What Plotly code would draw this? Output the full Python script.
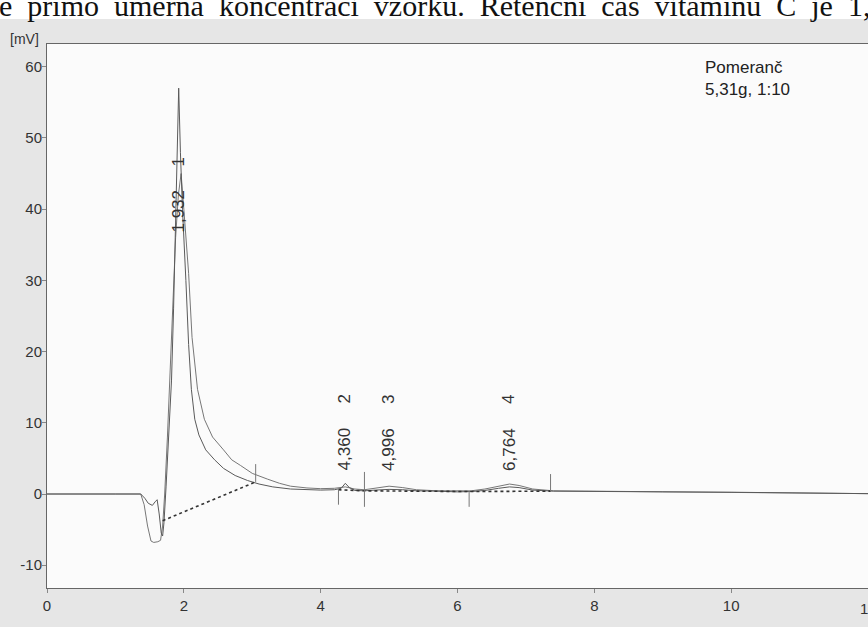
import plotly.graph_objects as go

# ---- data ----
t_a = [0, 0.5, 1.0, 1.37, 1.43, 1.48, 1.54, 1.58, 1.61, 1.64, 1.67, 1.69, 1.71, 1.74, 1.78, 1.82, 1.85, 1.88,
       1.91, 1.925, 1.95, 1.98, 2.03, 2.07, 2.11, 2.16, 2.22, 2.32, 2.45, 2.58, 2.75, 2.93, 3.1, 3.3, 3.56,
       3.8, 4.0, 4.2, 4.3, 4.36, 4.42, 4.5, 4.64, 4.8, 5.0, 5.2, 5.4, 5.7, 6.0, 6.2, 6.4, 6.6, 6.76, 6.9,
       7.1, 7.4, 8.0, 9.0, 10.0, 11.0, 11.7, 12.0]
mv_a = [0, 0.05, 0, 0, -0.6, -1.3, -1.6, -1.1, -0.8, -2.8, -5.5, -5.9, -4.0, 1.0, 8.0, 16.0, 26.0, 38.0,
        52.0, 57.0, 48.0, 40.0, 30.0, 21.0, 14.7, 10.5, 8.3, 6.2, 4.8, 3.6, 2.6, 1.9, 1.4, 1.0, 0.7,
        0.6, 0.55, 0.6, 0.8, 1.5, 0.9, 0.5, 0.45, 0.55, 0.65, 0.6, 0.45, 0.4, 0.3, 0.35, 0.5, 0.8, 1.0, 0.9,
        0.55, 0.4, 0.4, 0.3, 0.25, 0.2, 0.1, 0.05]

t_b = [0, 0.5, 1.0, 1.37, 1.42, 1.47, 1.52, 1.56, 1.62, 1.66, 1.69, 1.72, 1.76, 1.80, 1.84, 1.88, 1.92,
       1.96, 2.0, 2.04, 2.07, 2.12, 2.2, 2.3, 2.42, 2.58, 2.7, 2.83, 3.0, 3.22, 3.4, 3.56, 3.8, 4.0, 4.2,
       4.36, 4.5, 4.64, 4.8, 5.0, 5.2, 5.4, 5.7, 6.0, 6.2, 6.4, 6.6, 6.76, 6.9, 7.1, 7.4, 8.0, 9.0, 10.0,
       11.0, 12.0]
mv_b = [0, 0, 0.05, 0, -1.5, -4.5, -6.6, -6.8, -6.7, -6.5, -4.5, 0, 8.0, 18.0, 28.0, 36.0, 42.0,
        45.0, 40.0, 35.0, 31.0, 22.0, 14.7, 10.5, 8.0, 6.2, 4.8, 4.0, 2.9, 2.1, 1.5, 1.1, 0.85, 0.75, 0.8,
        1.0, 0.7, 0.6, 0.8, 1.1, 0.9, 0.6, 0.45, 0.4, 0.45, 0.7, 1.1, 1.4, 1.2, 0.7, 0.45, 0.4, 0.3, 0.25,
        0.2, 0.05]

base_t = [1.69, 3.05, None, 4.26, 4.64, 6.17, 7.36]
base_mv = [-3.75, 1.7, None, 0.6, 0.45, 0.35, 0.4]

bound_t = [3.05, 4.26, 4.64, 6.17, 7.36]
bound_lo = [1.7, -1.5, -1.8, -1.8, 0.4]
bound_hi = [4.2, 0.7, 3.1, 0.4, 2.8]

peak_id = ["1", "2", "3", "4"]
peak_rt = [1.932, 4.360, 4.996, 6.764]
peak_rt_text = ["1,932", "4,360", "4,996", "6,764"]

x_ticks = [0, 2, 4, 6, 8, 10, 12]
y_ticks = [-10, 0, 10, 20, 30, 40, 50, 60]

sample_text = "Pomeranč<br>5,31g, 1:10"
header_words = ["e", "přímo", "úměrná", "koncentraci", "vzorku.", "Retenční", "čas", "vitamínu", "C", "je", "1,9"]

# ---- figure ----
fig = go.Figure()
fig.add_trace(go.Scatter(x=t_b, y=mv_b, mode="lines", line=dict(color="#777777", width=1), hoverinfo="skip"))
fig.add_trace(go.Scatter(x=t_a, y=mv_a, mode="lines", line=dict(color="#5a5a5a", width=1), hoverinfo="skip"))
fig.add_trace(go.Scatter(x=base_t, y=base_mv, mode="lines",
                         line=dict(color="#333333", width=1.6, dash="dot"), hoverinfo="skip"))
bx, by = [], []
for t, lo, hi in zip(bound_t, bound_lo, bound_hi):
    bx += [t, t, None]
    by += [lo, hi, None]
fig.add_trace(go.Scatter(x=bx, y=by, mode="lines", line=dict(color="#777777", width=1), hoverinfo="skip"))

sans = "Liberation Sans, Arial, sans-serif"
font_lbl = dict(family=sans, size=17, color="#333333")
ann = []
for i, (pid, rt, txt) in enumerate(zip(peak_id, peak_rt, peak_rt_text)):
    if i == 0:
        y_rt, y_id = 39.7, 46.6
    else:
        y_rt, y_id = 6.3, 13.3
    ann.append(dict(x=rt, y=y_rt, text=txt, textangle=-90, showarrow=False, font=font_lbl,
                    xanchor="center", yanchor="middle", xshift=-1))
    ann.append(dict(x=rt, y=y_id, text=pid, textangle=-90, showarrow=False, font=font_lbl,
                    xanchor="center", yanchor="middle", xshift=-1))

ann.append(dict(xref="paper", yref="paper", x=(703 - 47) / 821, y=1 - (56 - 44) / 544, text=sample_text,
                showarrow=False, xanchor="left", yanchor="top", align="left",
                font=dict(family=sans, size=17, color="#222222")))
ann.append(dict(xref="paper", yref="paper", x=-6 / 821, y=1 + (44 - 39) / 544, text="[mV]",
                showarrow=False, xanchor="right", yanchor="middle",
                font=dict(family=sans, size=14, color="#333333")))
ann.append(dict(xref="paper", yref="paper", x=-50 / 821, y=1 + (44 - 24) / 544,
                text=" \u00a0".join(header_words),
                showarrow=False, xanchor="left", yanchor="bottom",
                font=dict(family="Liberation Serif, Times New Roman, serif", size=30, color="#111111")))
# partially visible last tick label at the clipped right edge
ann.append(dict(xref="x", yref="paper", x=x_ticks[-1], y=-(608 - 588) / 544, text=str(x_ticks[-1]),
                showarrow=False, xanchor="center", yanchor="middle",
                font=dict(family=sans, size=15, color="#333333")))

shapes = [dict(type="rect", xref="paper", yref="paper", x0=-0.1, x1=1.1, y0=1 + (44 - 19) / 544, y1=1.2,
               fillcolor="white", line=dict(width=0), layer="below")]

fig.update_layout(
    width=868, height=627,
    margin=dict(l=47, r=0, t=44, b=39),
    paper_bgcolor="#e6e6e6", plot_bgcolor="#fbfbfb",
    showlegend=False,
    annotations=ann, shapes=shapes,
    xaxis=dict(range=[0, 12], tickvals=x_ticks[:-1], ticktext=[str(v) for v in x_ticks[:-1]],
               showgrid=False, zeroline=False, showline=True, linecolor="#666666", linewidth=1, mirror=True,
               ticks="outside", ticklen=4, tickcolor="#888888",
               tickfont=dict(family=sans, size=15, color="#333333")),
    yaxis=dict(range=[-13.2, 63.2], tickvals=y_ticks, ticktext=[str(v) for v in y_ticks],
               showgrid=False, zeroline=False, showline=True, linecolor="#666666", linewidth=1, mirror=True,
               ticks="outside", ticklen=4, tickcolor="#888888", ticklabelstandoff=-3,
               tickfont=dict(family=sans, size=15, color="#333333")),
)

fig.write_html("out.html", config={"displayModeBar": False},
               post_script="document.body.style.margin='0';document.body.style.overflow='hidden';")
